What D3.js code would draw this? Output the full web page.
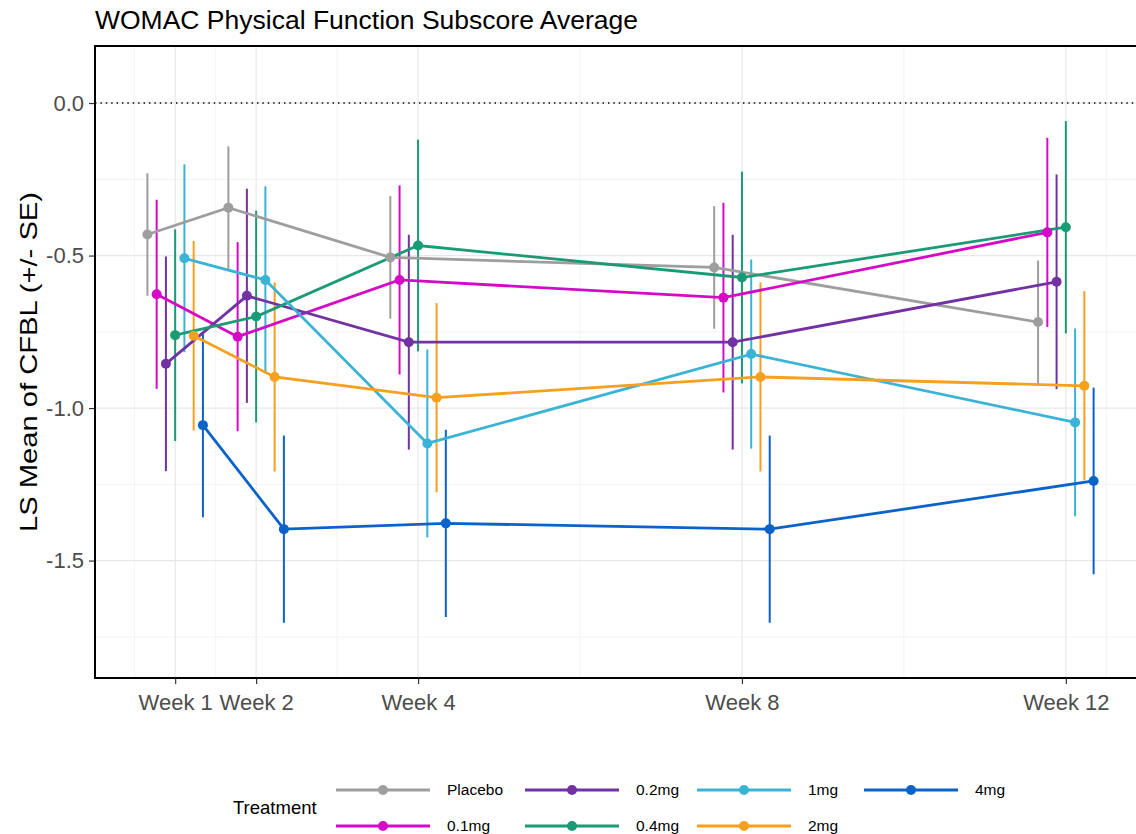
<!DOCTYPE html>
<html>
<head>
<meta charset="utf-8">
<script src="https://cdn.jsdelivr.net/npm/d3@7"></script>
<style>
  body { margin: 0; background: #fff; }
  svg { font-family: "Liberation Sans", Arial, sans-serif; display: block; }
</style>
</head>
<body>
<svg id="chart"></svg>
<script>
// data
const weeks = [1, 2, 4, 8, 12];
const weekLabels = ['Week 1', 'Week 2', 'Week 4', 'Week 8', 'Week 12'];
const treatments = ['Placebo', '0.1mg', '0.2mg', '0.4mg', '1mg', '2mg', '4mg'];
const colors = ['#9e9e9e', '#d40ac6', '#7232a3', '#1b9a76', '#3ab3d6', '#f5a01f', '#0b63c9'];

const placeboMean = [-0.431, -0.343, -0.506, -0.539, -0.718];
const mg01Mean = [-0.627, -0.766, -0.580, -0.638, -0.424];
const mg02Mean = [-0.855, -0.632, -0.784, -0.784, -0.586];
const mg04Mean = [-0.761, -0.700, -0.467, -0.572, -0.407];
const mg1Mean = [-0.509, -0.580, -1.116, -0.823, -1.047];
const mg2Mean = [-0.763, -0.898, -0.966, -0.898, -0.927];
const mg4Mean = [-1.056, -1.397, -1.378, -1.397, -1.239];

const placeboSE = [0.201, 0.201, 0.201, 0.201, 0.202];
const mg01SE = [0.310, 0.310, 0.310, 0.311, 0.310];
const mg02SE = [0.352, 0.351, 0.352, 0.352, 0.352];
const mg04SE = [0.347, 0.347, 0.347, 0.347, 0.348];
const mg1SE = [0.308, 0.307, 0.308, 0.310, 0.308];
const mg2SE = [0.311, 0.310, 0.310, 0.310, 0.310];
const mg4SE = [0.302, 0.307, 0.307, 0.307, 0.306];

const yTicks = [-1.5, -1.0, -0.5, 0.0];
const yMinor = [-1.75, -1.25, -0.75, -0.25];
const xMinor = [0.5, 1.5, 3, 6, 10, 12.5];

const means = [placeboMean, mg01Mean, mg02Mean, mg04Mean, mg1Mean, mg2Mean, mg4Mean];
const ses = [placeboSE, mg01SE, mg02SE, mg04SE, mg1SE, mg2SE, mg4SE];

const size = {w: 1136, h: 834};
const margin = {t: 46, l: 95, b: 156, r: -10};
const plot = {w: size.w - margin.l - margin.r, h: size.h - margin.t - margin.b};

const svg = d3.select('svg#chart')
    .attr('width', size.w)
    .attr('height', size.h);

const dodge = 0.8;
const n = treatments.length;

const series = treatments.map((t, i) => ({
    name: t,
    color: colors[i],
    values: weeks.map((w, j) => ({
        x: w + (i - (n - 1) / 2) * dodge / n,
        y: means[i][j],
        lo: means[i][j] - ses[i][j],
        hi: means[i][j] + ses[i][j]
    }))
}));

const x = d3.scaleLinear().domain([0.01, 12.99]).range([0, plot.w]);
const y = d3.scaleLinear().domain([-1.885, 0.187]).range([plot.h, 0]);

// title
svg.append('text')
    .attr('x', margin.l)
    .attr('y', 29)
    .attr('font-size', 26.5)
    .attr('fill', '#000')
    .text('WOMAC Physical Function Subscore Average');

const g = svg.append('g')
    .attr('transform', `translate(${margin.l}, ${margin.t})`);

svg.append('clipPath').attr('id', 'panel')
    .append('rect').attr('width', plot.w).attr('height', plot.h);

// grid
const grid = g.append('g').classed('grid', true);
grid.selectAll('line.ymin')
    .data(yMinor)
    .join('line')
    .attr('x1', 0).attr('x2', plot.w)
    .attr('y1', d => y(d)).attr('y2', d => y(d))
    .attr('stroke', '#ebebeb').attr('stroke-width', 0.6);
grid.selectAll('line.xmin')
    .data(xMinor)
    .join('line')
    .attr('y1', 0).attr('y2', plot.h)
    .attr('x1', d => x(d)).attr('x2', d => x(d))
    .attr('stroke', '#ebebeb').attr('stroke-width', 0.6);
grid.selectAll('line.ymaj')
    .data(yTicks)
    .join('line')
    .attr('x1', 0).attr('x2', plot.w)
    .attr('y1', d => y(d)).attr('y2', d => y(d))
    .attr('stroke', '#e8e8e8').attr('stroke-width', 1.2);
grid.selectAll('line.xmaj')
    .data(weeks)
    .join('line')
    .attr('y1', 0).attr('y2', plot.h)
    .attr('x1', d => x(d)).attr('x2', d => x(d))
    .attr('stroke', '#e8e8e8').attr('stroke-width', 1.2);

// zero reference line
g.append('line')
    .attr('x1', 0).attr('x2', plot.w)
    .attr('y1', y(0)).attr('y2', y(0))
    .attr('stroke', '#000')
    .attr('stroke-width', 1.4)
    .attr('stroke-dasharray', '1.4,4');

const marks = g.append('g').attr('clip-path', 'url(#panel)');

// error bars
marks.append('g').selectAll('g')
    .data(series)
    .join('g')
    .attr('stroke', d => d.color)
    .each(function(s) {
        d3.select(this).selectAll('line')
            .data(s.values)
            .join('line')
            .attr('x1', d => x(d.x)).attr('x2', d => x(d.x))
            .attr('y1', d => y(d.lo)).attr('y2', d => y(d.hi))
            .attr('stroke-width', 2);
    });

const line = d3.line().x(d => x(d.x)).y(d => y(d.y));

marks.append('g').selectAll('path')
    .data(series)
    .join('path')
    .attr('d', d => line(d.values))
    .attr('fill', 'none')
    .attr('stroke', d => d.color)
    .attr('stroke-width', 2.8);

marks.append('g').selectAll('g')
    .data(series)
    .join('g')
    .attr('fill', d => d.color)
    .each(function(s) {
        d3.select(this).selectAll('circle')
            .data(s.values)
            .join('circle')
            .attr('cx', d => x(d.x))
            .attr('cy', d => y(d.y))
            .attr('r', 5);
    });

// axes
const yAxis = g.append('g')
    .call(d3.axisLeft(y).tickValues(yTicks).tickFormat(d => d.toFixed(1)).tickSize(6).tickPadding(5));
const xAxis = g.append('g')
    .attr('transform', `translate(0, ${plot.h})`)
    .call(d3.axisBottom(x).tickValues(weeks).tickFormat((d, i) => weekLabels[i]).tickSize(6).tickPadding(10));

[yAxis, xAxis].forEach(a => {
    a.select('.domain').remove();
    a.selectAll('.tick line').attr('stroke', '#333').attr('stroke-width', 1.2);
    a.selectAll('.tick text')
        .attr('fill', '#4d4d4d')
        .attr('font-size', 22)
        .attr('font-family', '"Liberation Sans", Arial, sans-serif');
});

// panel border
g.append('rect')
    .attr('width', plot.w).attr('height', plot.h)
    .attr('fill', 'none')
    .attr('stroke', '#000')
    .attr('stroke-width', 2);

// y title
svg.append('text')
    .attr('transform', `translate(37, ${margin.t + plot.h / 2}) rotate(-90)`)
    .attr('text-anchor', 'middle')
    .attr('font-size', 24)
    .attr('textLength', 340)
    .attr('lengthAdjust', 'spacingAndGlyphs')
    .attr('fill', '#000')
    .text('LS Mean of CFBL (+/- SE)');

// legend
const legendCols = [336, 525, 697, 864];
const legendRows = [790, 826];
const keyW = 94;

svg.append('text')
    .attr('x', 233)
    .attr('y', 814)
    .attr('font-size', 18.5)
    .attr('fill', '#000')
    .text('Treatment');

const legend = svg.append('g').selectAll('g')
    .data(series)
    .join('g')
    .attr('transform', (d, i) => `translate(${legendCols[Math.floor(i / 2)]}, ${legendRows[i % 2]})`);

legend.append('line')
    .attr('x1', 0).attr('x2', keyW)
    .attr('stroke', d => d.color)
    .attr('stroke-width', 3);
legend.append('circle')
    .attr('cx', keyW / 2)
    .attr('r', 5)
    .attr('fill', d => d.color);
legend.append('text')
    .attr('x', keyW + 17)
    .attr('dy', '0.35em')
    .attr('font-size', 15.5)
    .attr('fill', '#000')
    .text(d => d.name);
</script>
</body>
</html>
